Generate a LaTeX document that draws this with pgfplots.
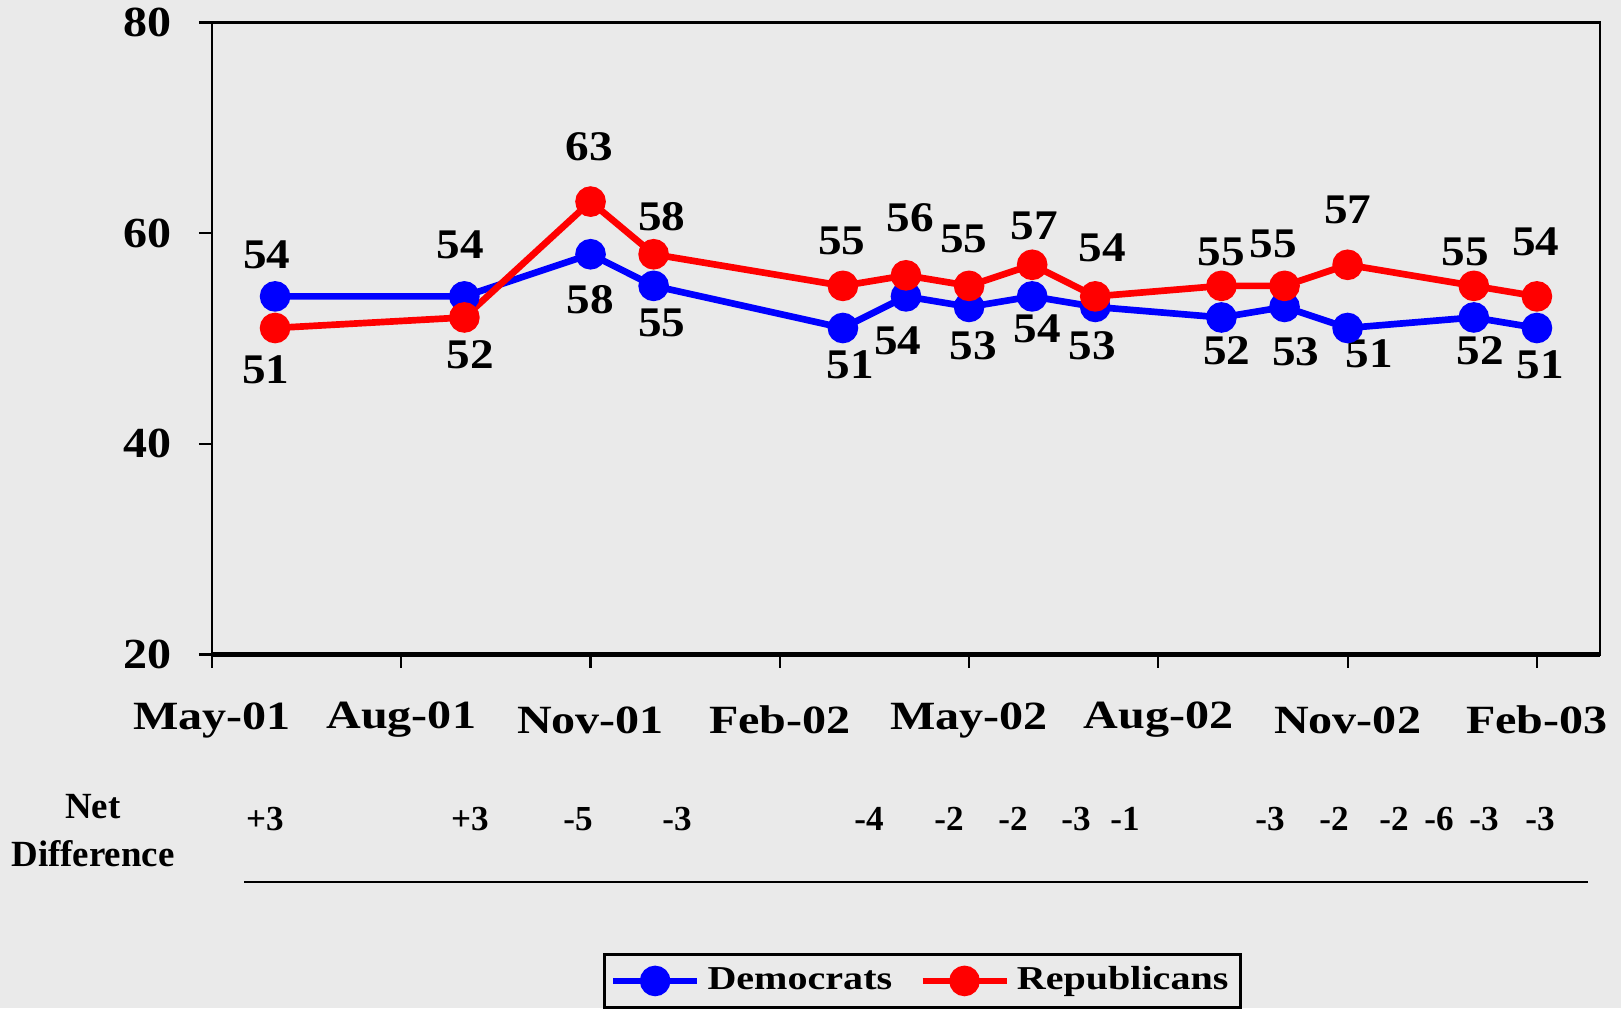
\documentclass[border=0pt]{standalone}
\usepackage{fontspec}
\setmainfont{Liberation Serif}
\newfontfamily\wide{Liberation Serif}[FakeStretch=1.2]
\newfontfamily\midw{Liberation Serif}[FakeStretch=1.12]
\usepackage{pgfplots}
\pgfplotsset{compat=1.18}
\definecolor{bg}{RGB}{234,234,234}
\definecolor{dem}{RGB}{0,0,255}
\definecolor{rep}{RGB}{255,0,0}
\newcommand\lbl{\fontsize{11.4}{13}\selectfont\bfseries}
\newcommand\dlf{\fontsize{12}{14}\selectfont\bfseries\midw}
\newcommand\dl[5]{\node[font=\dlf,inner sep=0pt] at (axis cs:#1,#2) [xshift=#3mm, yshift=#4mm] {#5};}
\begin{document}
\begin{tikzpicture}[x=0.1mm,y=0.1mm]
\useasboundingbox (0,0) rectangle (1621,1008);
\fill[bg] (0,0) rectangle (1621,1008);
\begin{axis}[at={(21.2mm,35.35mm)}, anchor=south west, scale only axis,
  width=138.8mm, height=63.2mm,
  xmin=0, xmax=22, ymin=20, ymax=80,
  ytick={20,40,60,80}, xtick={0,3,6,9,12,15,18,21},
  xticklabels={May-01,Aug-01,Nov-01,Feb-02,May-02,Aug-02,Nov-02,Feb-03},
  tick pos=left, tick align=outside,
  major tick length=1.3mm,
  tick style={black, line width=0.6pt},
  axis line style={black, line width=0.7pt},
  /pgf/number format/assume math mode=true,
  yticklabel style={font=\fontsize{12.2}{14}\selectfont\bfseries\midw, anchor=east, xshift=-1.5mm},
  xticklabel style={font=\lbl\wide, anchor=center, yshift=-5.25mm},
  axis background/.style={fill=bg},
  clip=false,
  legend style={at={(0.512,-0.4723)}, anchor=north, legend columns=2,
    draw=black, line width=0.8pt, fill=bg, font=\fontsize{9.5}{11}\selectfont\bfseries\wide,
    inner sep=1.5pt, /tikz/every even column/.append style={column sep=2mm}},
  legend image code/.code={\draw[#1, mark repeat=2, mark phase=2] plot coordinates {(0cm,0cm) (0.42cm,0cm) (0.84cm,0cm)};},
]
\addplot[dem, line width=1.9pt, mark=*, mark size=3.4pt, mark options={solid}] coordinates {
(1,54) (4,54) (6,58) (7,55) (10,51) (11,54) (12,53) (13,54) (14,53) (16,52) (17,53) (18,51) (20,52) (21,51)};
\addlegendentry{Democrats}
\addplot[rep, line width=1.9pt, mark=*, mark size=3.4pt, mark options={solid}] coordinates {
(1,51) (4,52) (6,63) (7,58) (10,55) (11,56) (12,55) (13,57) (14,54) (16,55) (17,55) (18,57) (20,55) (21,54)};
\addlegendentry{Republicans}
\draw[black, line width=1.6pt] (axis cs:0,20) -- (axis cs:22,20);
% Democrat labels
\dl{1}{54}{-0.83}{4.14}{54}
\dl{4}{54}{-0.41}{5.17}{54}
\dl{6}{58}{0}{-4.55}{58}
\dl{7}{55}{0.83}{-3.72}{55}
\dl{10}{51}{0.72}{-3.72}{51}
\dl{11}{54}{-0.83}{-4.45}{54}
\dl{12}{53}{0.41}{-3.93}{53}
\dl{13}{54}{0.52}{-3.21}{54}
\dl{14}{53}{-0.31}{-3.93}{53}
\dl{16}{52}{0.52}{-3.31}{52}
\dl{17}{53}{1.14}{-4.45}{53}
\dl{18}{51}{2.17}{-2.59}{51}
\dl{20}{52}{0.62}{-3.31}{52}
\dl{21}{51}{0.31}{-3.72}{51}
% Republican labels
\dl{1}{51}{-0.93}{-4.14}{51}
\dl{4}{52}{0.62}{-3.72}{52}
\dl{6}{63}{-0.10}{5.48}{63}
\dl{7}{58}{0.83}{3.72}{58}
\dl{10}{55}{-0.10}{4.45}{55}
\dl{11}{56}{0.41}{5.79}{56}
\dl{12}{55}{-0.52}{4.65}{55}
\dl{13}{57}{0.21}{3.93}{57}
\dl{14}{54}{0.72}{4.86}{54}
\dl{16}{55}{0}{3.41}{55}
\dl{17}{55}{-1.14}{4.24}{55}
\dl{18}{57}{0}{5.48}{57}
\dl{20}{55}{-0.83}{3.41}{55}
\dl{21}{54}{-0.10}{5.48}{54}
\end{axis}
% Net difference row
\begin{scope}[every node/.style={font=\fontsize{10}{12}\selectfont\bfseries, inner sep=0pt}]
\foreach \xx/\tt in {265/+3, 470/+3, 578/-5, 677/-3, 869/-4, 949/-2, 1013/-2, 1076/-3, 1125/-1, 1270/-3, 1334/-2, 1394/-2, 1439/-6, 1484/-3, 1540/-3}
  \node at (\xx,189) {\tt};
\end{scope}
\node[font=\fontsize{10.5}{12}\selectfont\bfseries, inner sep=0pt] at (93,201) {Net};
\node[font=\fontsize{10.5}{12}\selectfont\bfseries, inner sep=0pt] at (93,154) {Difference};
\draw[black, line width=0.5pt] (244,126) -- (1588,126);
\end{tikzpicture}
\end{document}
